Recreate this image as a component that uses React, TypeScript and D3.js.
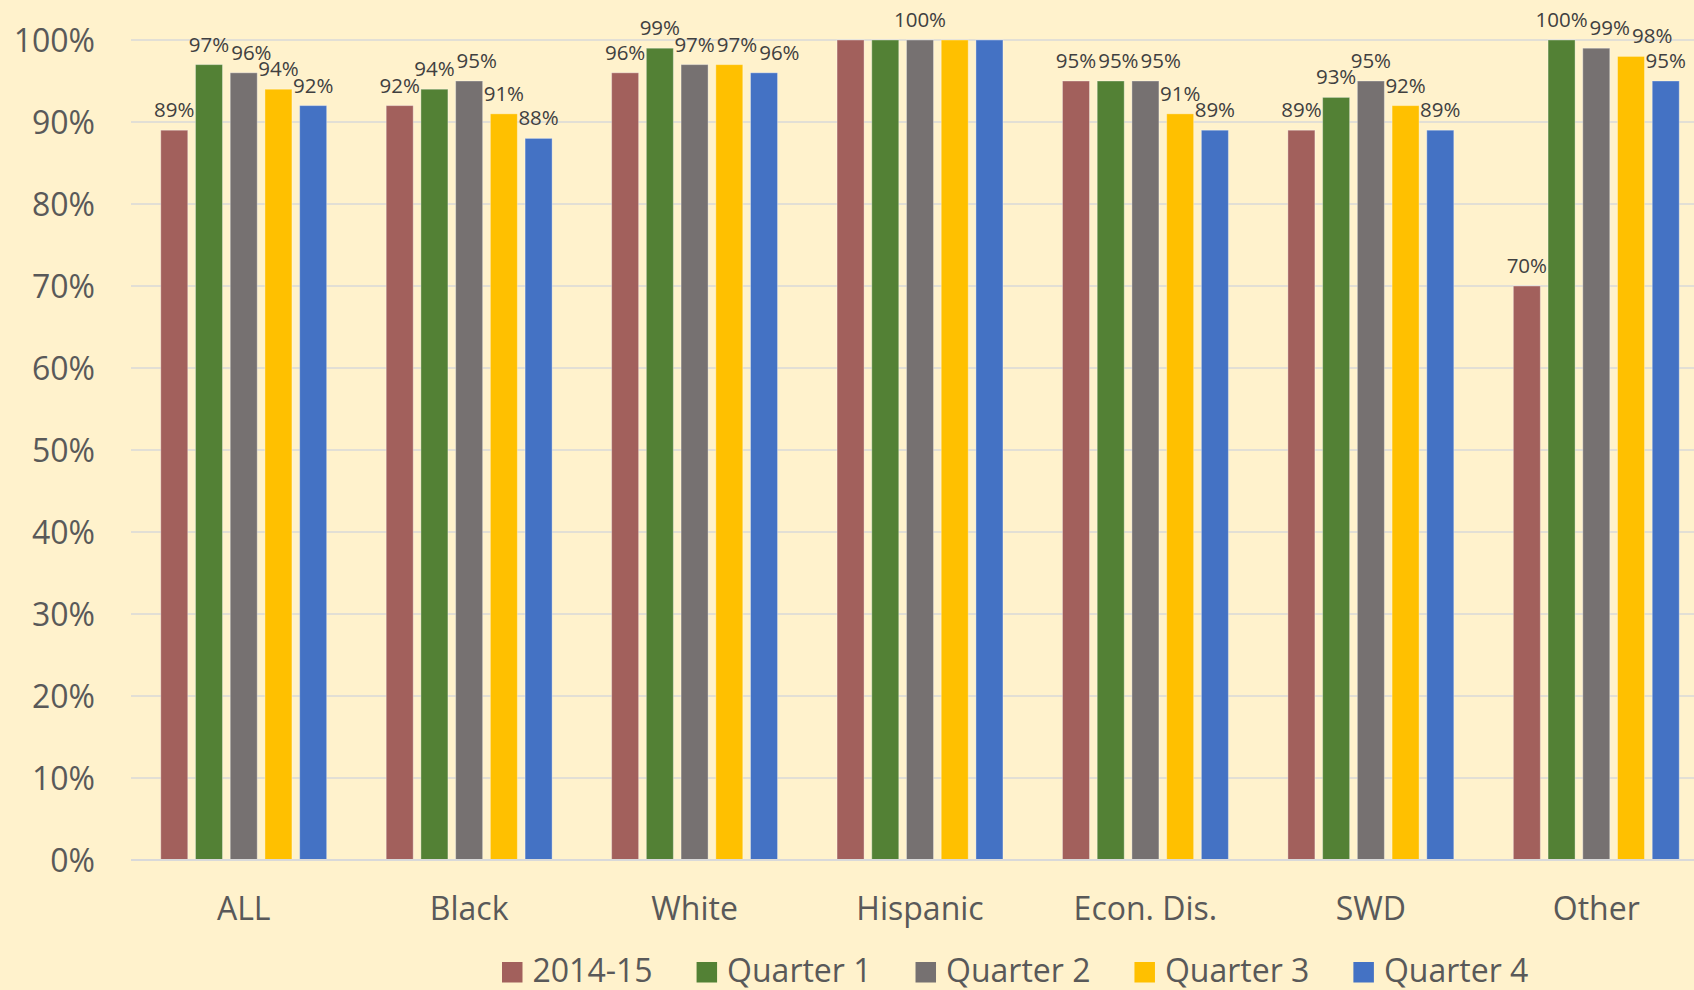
import React, { useEffect, useRef } from "react";
import { select, scaleBand, scaleLinear, range } from "d3";

// groups along the x axis
const categories = ["ALL", "Black", "White", "Hispanic", "Econ. Dis.", "SWD", "Other"];
const seriesNames = ["2014-15", "Quarter 1", "Quarter 2", "Quarter 3", "Quarter 4"];
const seriesColors = ["#A2605C", "#538135", "#767171", "#FFC000", "#4472C4"];

// percentages per series, in category order
const y2014 = [89, 92, 96, 100, 95, 89, 70];
const q1 = [97, 94, 99, 100, 95, 93, 100];
const q2 = [96, 95, 97, 100, 95, 95, 99];
const q3 = [94, 91, 97, 100, 91, 92, 98];
const q4 = [92, 88, 96, 100, 89, 89, 95];

const yTicks = [0, 10, 20, 30, 40, 50, 60, 70, 80, 90, 100];

// labels removed in the original (overlapping 100% labels on Hispanic)
const hiddenLabels = ["Hispanic|2014-15", "Hispanic|Quarter 1", "Hispanic|Quarter 3", "Hispanic|Quarter 4"];

const FONT = "'Open Sans', 'Liberation Sans', sans-serif";
const TEXT = "#595959";

type Cell = { cat: string; series: string; value: number; color: string };

const App = () => {
  const svgRef = useRef<SVGSVGElement>(null);

  useEffect(() => {
    const width = 1694;
    const height = 990;
    const plot = { left: 131, right: 1709, top: 40, bottom: 860 };

    const svg = select(svgRef.current).attr("width", width).attr("height", height);
    svg.selectAll("*").remove();

    svg.append("rect").attr("width", width).attr("height", height).attr("fill", "#FFF2CC");

    const allValues = [y2014, q1, q2, q3, q4];
    const cells: Cell[] = [];
    categories.forEach((cat, ci) => {
      seriesNames.forEach((s, si) => {
        cells.push({ cat, series: s, value: allValues[si][ci], color: seriesColors[si] });
      });
    });

    const x0 = scaleBand<string>()
      .domain(categories)
      .range([plot.left, plot.right])
      .paddingInner(0.264)
      .paddingOuter(0.132);

    const x1 = scaleBand<string>()
      .domain(seriesNames)
      .range([0, x0.bandwidth()])
      .paddingInner(0.222);

    const y = scaleLinear().domain([0, 100]).range([plot.bottom, plot.top]);

    // gridlines
    svg
      .append("g")
      .selectAll("line")
      .data(yTicks.filter((t) => t > 0))
      .join("line")
      .attr("x1", plot.left)
      .attr("x2", plot.right)
      .attr("y1", (d) => y(d))
      .attr("y2", (d) => y(d))
      .attr("stroke", "#D9D9D9")
      .attr("stroke-width", 1.5);

    // y tick labels
    svg
      .append("g")
      .selectAll("text")
      .data(yTicks)
      .join("text")
      .attr("x", 95)
      .attr("y", (d) => y(d) + 12)
      .attr("text-anchor", "end")
      .attr("font-family", FONT)
      .attr("font-size", 32)
      .attr("fill", TEXT)
      .text((d) => `${d}%`);

    // bars
    svg
      .append("g")
      .selectAll("rect")
      .data(cells)
      .join("rect")
      .attr("x", (d) => (x0(d.cat) as number) + (x1(d.series) as number))
      .attr("y", (d) => y(d.value))
      .attr("width", x1.bandwidth())
      .attr("height", (d) => y(0) - y(d.value))
      .attr("fill", (d) => d.color)
      .attr("stroke", "rgba(255,255,255,0.35)")
      .attr("stroke-width", 1);

    // x axis line
    svg
      .append("line")
      .attr("x1", plot.left)
      .attr("x2", plot.right)
      .attr("y1", y(0))
      .attr("y2", y(0))
      .attr("stroke", "#D9D9D9")
      .attr("stroke-width", 2);

    // data labels, pushed right when they collide with a neighbour (like the original)
    const labelGroup = svg.append("g");
    const labelGap = 2;
    const labelHeight = 16;
    categories.forEach((cat) => {
      const placed: { left: number; right: number; base: number }[] = [];
      cells
        .filter((d) => d.cat === cat && !hiddenLabels.includes(`${d.cat}|${d.series}`))
        .forEach((d) => {
          const cx = (x0(d.cat) as number) + (x1(d.series) as number) + x1.bandwidth() / 2;
          const base = y(d.value) - 13;
          const t = labelGroup
            .append("text")
            .attr("y", base)
            .attr("font-family", FONT)
            .attr("font-size", 20.5)
            .attr("fill", "#404040")
            .text(`${d.value}%`);
          const w = (t.node() as SVGTextElement).getComputedTextLength();
          let left = cx - w / 2;
          placed.forEach((p) => {
            if (Math.abs(p.base - base) < labelHeight && left < p.right + labelGap && left + w > p.left) {
              left = p.right + labelGap;
            }
          });
          t.attr("x", left);
          placed.push({ left, right: left + w, base });
        });
    });

    // category labels
    svg
      .append("g")
      .selectAll("text")
      .data(categories)
      .join("text")
      .attr("x", (d) => (x0(d) as number) + x0.bandwidth() / 2)
      .attr("y", 920)
      .attr("text-anchor", "middle")
      .attr("font-family", FONT)
      .attr("font-size", 32)
      .attr("fill", TEXT)
      .text((d) => d);

    // legend
    const legend = svg.append("g");
    let lx = 502;
    range(seriesNames.length).forEach((i) => {
      legend
        .append("rect")
        .attr("x", lx)
        .attr("y", 962)
        .attr("width", 20.5)
        .attr("height", 20.5)
        .attr("fill", seriesColors[i]);
      const t = legend
        .append("text")
        .attr("x", lx + 30.5)
        .attr("y", 982)
        .attr("font-family", FONT)
        .attr("font-size", 32)
        .attr("fill", TEXT)
        .text(seriesNames[i]);
      const w = (t.node() as SVGTextElement).getComputedTextLength();
      lx += 30.5 + w + 44;
    });
  }, []);

  return (
    <div style={{ position: "absolute", left: 0, top: 0 }}>
      <svg ref={svgRef} style={{ display: "block" }}></svg>
    </div>
  );
};

export default App;
